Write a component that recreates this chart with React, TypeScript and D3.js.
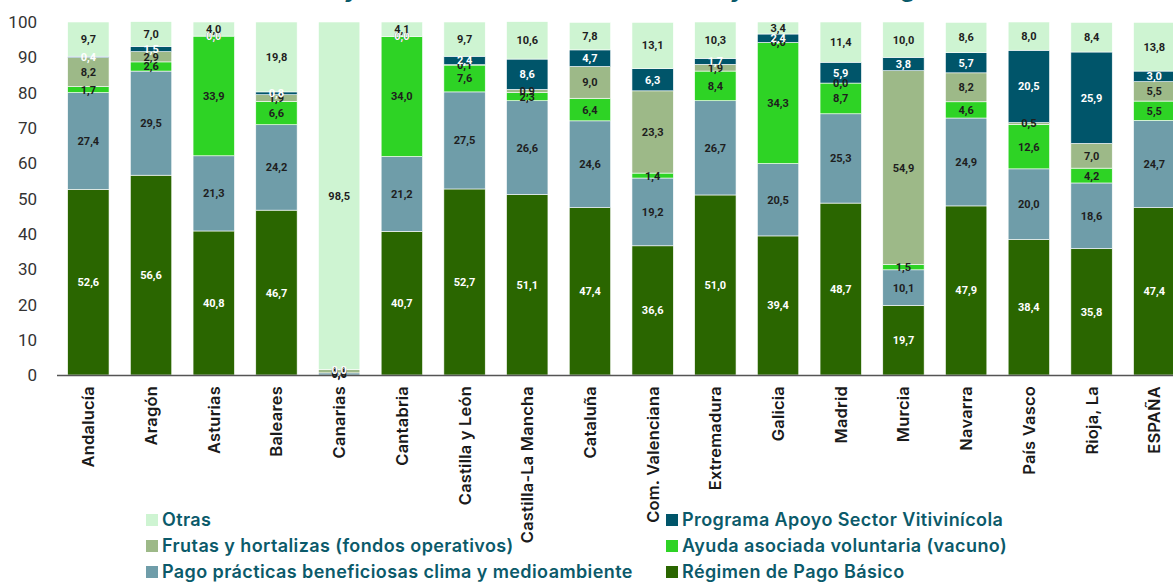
import React from "react";
import * as d3 from "d3";

const categories = [
  "Andalucía", "Aragón", "Asturias", "Baleares", "Canarias", "Cantabria",
  "Castilla y León", "Castilla-La Mancha", "Cataluña", "Com. Valenciana",
  "Extremadura", "Galicia", "Madrid", "Murcia", "Navarra", "País Vasco",
  "Rioja, La", "ESPAÑA",
];

const regimen = [52.6, 56.6, 40.8, 46.7, 0.0, 40.7, 52.7, 51.1, 47.4, 36.6, 51.0, 39.4, 48.7, 19.7, 47.9, 38.4, 35.8, 47.4];
const pago = [27.4, 29.5, 21.3, 24.2, 0.6, 21.2, 27.5, 26.6, 24.6, 19.2, 26.7, 20.5, 25.3, 10.1, 24.9, 20.0, 18.6, 24.7];
const vacuno = [1.7, 2.6, 33.9, 6.6, 0.0, 34.0, 7.6, 2.3, 6.4, 1.4, 8.4, 34.3, 8.7, 1.5, 4.6, 12.6, 4.2, 5.5];
const frutas = [8.2, 2.9, 0.0, 1.9, 0.9, 0.0, 0.1, 0.9, 9.0, 23.3, 1.9, 0.0, 0.0, 54.9, 8.2, 0.5, 7.0, 5.5];
const viti = [0.4, 1.5, 0.0, 0.8, 0.0, 0.0, 2.4, 8.6, 4.7, 6.3, 1.7, 2.4, 5.9, 3.8, 5.7, 20.5, 25.9, 3.0];
const otras = [9.7, 7.0, 4.0, 19.8, 98.5, 4.1, 9.7, 10.6, 7.8, 13.1, 10.3, 3.4, 11.4, 10.0, 8.6, 8.0, 8.4, 13.8];

const seriesKeys = ["regimen", "pago", "vacuno", "frutas", "viti", "otras"];
const seriesNames = [
  "Régimen de Pago Básico",
  "Pago prácticas beneficiosas clima y medioambiente",
  "Ayuda asociada voluntaria (vacuno)",
  "Frutas y hortalizas (fondos operativos)",
  "Programa Apoyo Sector Vitivinícola",
  "Otras",
];
const seriesColors = ["#2a6600", "#6f9da9", "#2ed325", "#9db988", "#00556a", "#cef4d2"];
const labelColors = ["#ffffff", "#1e1e1e", "#1e1e1e", "#1e1e1e", "#ffffff", "#1e1e1e"];

const yTicks = [0, 10, 20, 30, 40, 50, 60, 70, 80, 90, 100];

const legendLeft = ["otras", "frutas", "pago"];
const legendRight = ["viti", "vacuno", "regimen"];

const title = "Distribución de las ayudas directas en cada territorio y el total del régimen";

const W = 1173;
const H = 582;

export default function App() {
  const valuesByKey: Record<string, number[]> = { regimen, pago, vacuno, frutas, viti, otras };
  const rows = categories.map((c, i) => {
    const r: any = { cat: c };
    seriesKeys.forEach((k) => (r[k] = valuesByKey[k][i]));
    return r;
  });
  const stacked = d3.stack<any>().keys(seriesKeys)(rows);

  const step = 62.7;
  const x0 = 57;
  const x = d3
    .scaleBand<string>()
    .domain(categories)
    .range([x0, x0 + step * categories.length])
    .paddingInner(0.34)
    .paddingOuter(0.17);
  const y = d3.scaleLinear().domain([0, 100]).range([375, 22]);
  const fmt = (v: number) => d3.format(".1f")(v).replace(".", ",");

  const legendItem = (key: string, row: number, colX: number) => {
    const idx = seriesKeys.indexOf(key);
    const cy = 520 + row * 26;
    return (
      <g key={key}>
        <rect x={colX} y={cy - 6} width={12} height={12} fill={seriesColors[idx]} />
        <text
          x={colX + 16}
          y={cy}
          dy="0.36em"
          fontFamily="Inter, 'Noto Sans', sans-serif"
          fontWeight={600}
          fontSize={18}
          letterSpacing={0.4}
          fill="#0b5a6a"
        >
          {seriesNames[idx]}
        </text>
      </g>
    );
  };

  return (
    <svg
      width={W}
      height={H}
      style={{ position: "absolute", left: 0, top: 0, background: "#fff" }}
    >
      <text
        x={540}
        y={-3}
        textAnchor="middle"
        fontFamily="Inter, 'Noto Sans', sans-serif"
        fontWeight={700}
        fontSize={24}
        fill="#0b5a6a"
      >
        {title}
      </text>

      {yTicks.map((t) => (
        <text
          key={t}
          x={37}
          y={y(t)}
          dy="0.36em"
          textAnchor="end"
          fontFamily="Roboto, 'Noto Sans', sans-serif"
          fontSize={17}
          fill="#333"
        >
          {t}
        </text>
      ))}

      {stacked.map((s, si) => (
        <g key={s.key} fill={seriesColors[si]}>
          {s.map((d, i) => (
            <rect
              key={i}
              x={x(categories[i])}
              y={y(d[1])}
              width={x.bandwidth()}
              height={Math.max(0, y(d[0]) - y(d[1]))}
              stroke="#ffffff"
              strokeWidth={0.6}
            />
          ))}
        </g>
      ))}

      <line x1={57} x2={W} y1={375.5} y2={375.5} stroke="#555" strokeWidth={1.5} />

      {stacked.map((s, si) => (
        <g key={"l" + s.key}>
          {s.map((d, i) => (
            <text
              key={i}
              x={(x(categories[i]) as number) + x.bandwidth() / 2}
              y={y((d[0] + d[1]) / 2)}
              dy="0.36em"
              textAnchor="middle"
              fontFamily="Roboto, 'Noto Sans', sans-serif"
              fontWeight={700}
              fontSize={11}
              fill={labelColors[si]}
            >
              {fmt(d[1] - d[0])}
            </text>
          ))}
        </g>
      ))}

      {categories.map((c) => {
        const cx = (x(c) as number) + x.bandwidth() / 2;
        return (
          <text
            key={c}
            transform={`translate(${cx},386) rotate(-90)`}
            dy="0.36em"
            textAnchor="end"
            fontFamily="Inter, 'Noto Sans', sans-serif"
            fontWeight={600}
            fontSize={16.5}
            letterSpacing={0.2}
            fill="#1a1a1a"
          >
            {c}
          </text>
        );
      })}

      {legendLeft.map((k, i) => legendItem(k, i, 146))}
      {legendRight.map((k, i) => legendItem(k, i, 666))}
    </svg>
  );
}
